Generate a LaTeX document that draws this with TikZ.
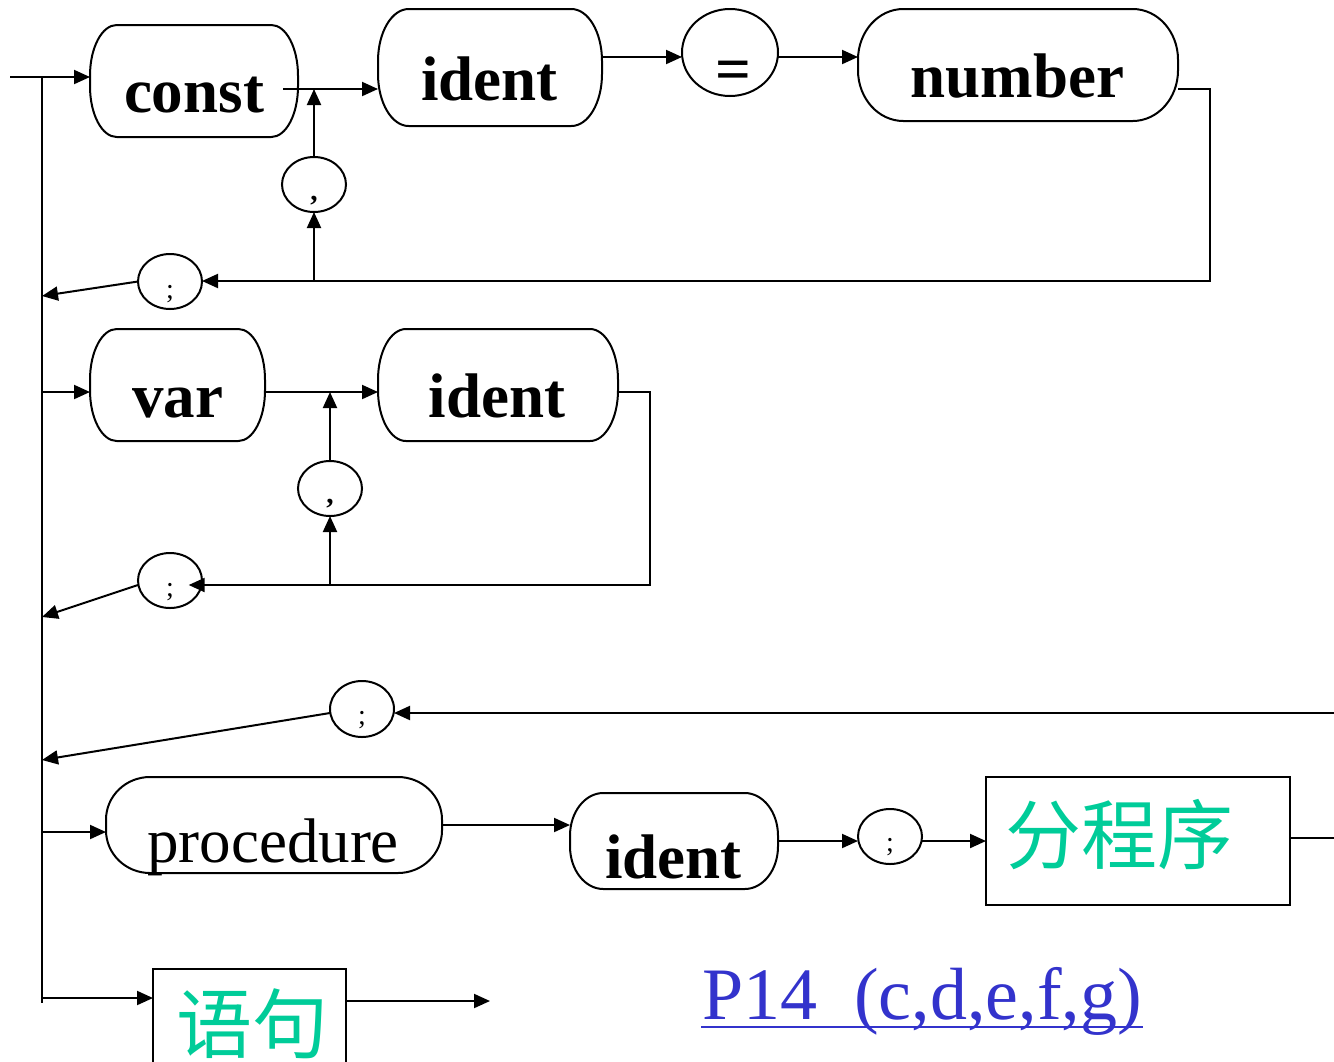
\documentclass[tikz,border=0pt]{standalone}
\usepackage{fontspec}
\setmainfont{Liberation Serif}
\newfontfamily\cjk{Noto Sans CJK SC}
\usetikzlibrary{shapes.geometric,arrows.meta}
\definecolor{zgreen}{RGB}{0,204,153}
\definecolor{pblue}{RGB}{51,51,204}
% rounded box outline with elliptical corners: name, x radius, y radius
\newcommand\rrbox[3]{%
  \draw ([xshift=#2]#1.north west) -- ([xshift=-#2]#1.north east)
    arc[start angle=90,end angle=0,x radius=#2,y radius=#3]
    -- ([yshift=#3]#1.south east)
    arc[start angle=0,end angle=-90,x radius=#2,y radius=#3]
    -- ([xshift=#2]#1.south west)
    arc[start angle=270,end angle=180,x radius=#2,y radius=#3]
    -- ([yshift=-#3]#1.north west)
    arc[start angle=180,end angle=90,x radius=#2,y radius=#3] -- cycle;}
\tikzset{
  rrnode/.style={rectangle, draw=none, inner sep=0pt, outer sep=0pt},
  ovalnode/.style={ellipse, draw, inner sep=0pt, outer sep=0pt},
  sqnode/.style={rectangle, draw, inner sep=0pt, outer sep=0pt},
  kwtxt/.style={inner sep=0pt, font=\fontsize{47.25pt}{50pt}\selectfont\bfseries},
  kwrtxt/.style={inner sep=0pt, font=\fontsize{47.25pt}{50pt}\selectfont},
  comtxt/.style={inner sep=0pt, font=\fontsize{22pt}{24pt}\selectfont\bfseries},
  semitxt/.style={inner sep=0pt, font=\fontsize{21pt}{24pt}\selectfont},
  zhtxt/.style={inner sep=0pt, text=zgreen, font=\cjk\fontsize{57pt}{60pt}\selectfont},
  arrowed/.style={-{Triangle[length=12pt,width=10.5pt]}},
}
\begin{document}
\begin{tikzpicture}[x=0.75pt,y=-0.75pt,line width=1.5pt]
\useasboundingbox (0,0) rectangle (1334,1061);

% ---- shapes ----
\node[rrnode, minimum width=156pt, minimum height=84pt] (const) at (194,81) {};
\node[rrnode, minimum width=168pt, minimum height=87.75pt] (ident1) at (490,67.5) {};
\node[ovalnode, minimum width=72pt, minimum height=65.25pt] (eq) at (730,52.5) {};
\node[rrnode, minimum width=240pt, minimum height=84pt] (number) at (1018,65) {};
\node[ovalnode, minimum width=48pt, minimum height=41.25pt] (comma1) at (314,184.5) {};
\node[ovalnode, minimum width=48pt, minimum height=41.25pt] (semi1) at (170,281.5) {};

\node[rrnode, minimum width=131.25pt, minimum height=84pt] (var) at (177.5,385) {};
\node[rrnode, minimum width=180pt, minimum height=84pt] (ident2) at (498,385) {};
\node[ovalnode, minimum width=48pt, minimum height=41.25pt] (comma2) at (330,488.5) {};
\node[ovalnode, minimum width=48pt, minimum height=41.25pt] (semi2) at (170,580.5) {};

\node[ovalnode, minimum width=48pt, minimum height=42pt] (semi3) at (362,709) {};

\node[rrnode, minimum width=252pt, minimum height=72pt] (procedure) at (274,825) {};
\node[rrnode, minimum width=156pt, minimum height=72pt] (ident3) at (674,841) {};
\node[ovalnode, minimum width=48pt, minimum height=41.25pt] (semi4) at (890,836.5) {};
\node[sqnode, minimum width=228pt, minimum height=96pt] (fcx) at (1138,841) {};
\node[sqnode, minimum width=144.75pt, minimum height=72.75pt] (yj) at (249.5,1017.5) {};

\rrbox{const}{20pt}{38pt}
\rrbox{ident1}{23pt}{39pt}
\rrbox{number}{34pt}{38pt}
\rrbox{var}{20pt}{38pt}
\rrbox{ident2}{21pt}{38pt}
\rrbox{procedure}{33pt}{32pt}
\rrbox{ident3}{25pt}{32pt}

% ---- texts ----
\node[kwtxt, anchor=base] (tconst) at (194,112) {const};
\node[kwtxt, anchor=base] (tident1) at (489.5,100) {ident};
\node[kwtxt] (teq) at (733,76) {=};
\node[kwtxt, anchor=base] (tnumber) at (1017.5,97) {number};
\node[comtxt, anchor=base] (tcomma1) at (314,200) {,};
\node[semitxt, anchor=base] (tsemi1) at (170,298) {;};
\node[kwtxt, anchor=base] (tvar) at (177.5,417) {var};
\node[kwtxt, anchor=base] (tident2) at (497,417) {ident};
\node[comtxt, anchor=base] (tcomma2) at (330,503) {,};
\node[semitxt, anchor=base] (tsemi2) at (170,596) {;};
\node[semitxt, anchor=base] (tsemi3) at (362,724) {;};
\node[kwrtxt, anchor=base] (tproc) at (273,862) {procedure};
\node[kwtxt, anchor=base] (tident3) at (673.5,878) {ident};
\node[semitxt, anchor=base] (tsemi4) at (890,851) {;};
\node[zhtxt, anchor=base west] (tfcx) at (1004,863) {分程序};
\node[zhtxt, anchor=base west] (tyj) at (175,1052) {语句};
\node[inner sep=0pt, text=pblue, font=\fontsize{55.5pt}{58pt}\selectfont, anchor=base west] (p14) at (701,1019) {P14~~(c,d,e,f,g)};
\draw[pblue, line width=2.2pt] ([yshift=-6pt]p14.base west) -- ([yshift=-6pt]p14.base east);

% ---- connectors ----
\coordinate (in) at (10,77);
\coordinate (top) at (42,77);
\coordinate (bot) at (42,1003);
\draw (top) -- (bot);
\draw[arrowed] (in) -- (in -| const.west);

\coordinate (constout) at (283,89);
\draw[arrowed] (constout) -- (constout -| ident1.west);
\coordinate (r1) at (0,57);
\draw[arrowed] (ident1.east |- r1) -- (eq.west |- r1);
\draw[arrowed] (eq.east |- r1) -- (number.west |- r1);
\coordinate (r89) at (0,89);
\coordinate (loop1) at (1210,281);
\draw[arrowed] (number.east |- r89) -| (loop1) -- (semi1.east |- loop1);
\draw[arrowed] (comma1.south |- loop1) -- (comma1.south);
\draw[arrowed] (comma1.north) -- (comma1.north |- constout);
\coordinate (j1) at (42,296);
\draw[arrowed] (semi1.west) -- (j1);

\coordinate (rv) at (0,392);
\draw[arrowed] (top |- rv) -- (var.west |- rv);
\draw[arrowed] (var.east |- rv) -- (ident2.west |- rv);
\coordinate (loop2) at (650,585);
\draw[arrowed] (ident2.east |- rv) -| (loop2) -- ([xshift=-10pt]semi2.east |- loop2);
\draw[arrowed] (comma2.south |- loop2) -- (comma2.south);
\draw[arrowed] (comma2.north) -- (comma2.north |- rv);
\coordinate (j2) at (42,617);
\draw[arrowed] (semi2.west |- loop2) -- (j2);

\coordinate (rin) at (1334,713);
\draw[arrowed] (rin) -- (semi3.east |- rin);
\coordinate (j3) at (42,760);
\draw[arrowed] (semi3.west |- rin) -- (j3);

\coordinate (rp) at (0,832);
\draw[arrowed] (top |- rp) -- (procedure.west |- rp);
\draw[arrowed] (procedure.east) -- (ident3.west |- procedure.east);
\draw[arrowed] (ident3.east) -- (semi4.west |- ident3.east);
\draw[arrowed] (semi4.east |- ident3.east) -- (fcx.west |- ident3.east);
\coordinate (rout) at (1334,838);
\draw (fcx.east |- rout) -- (rout);

\coordinate (rb) at (0,998);
\draw[arrowed] (top |- rb) -- (yj.west |- rb);
\coordinate (yjend) at (490,1001);
\draw[arrowed] (yj.east |- yjend) -- (yjend);
\end{tikzpicture}
\end{document}
